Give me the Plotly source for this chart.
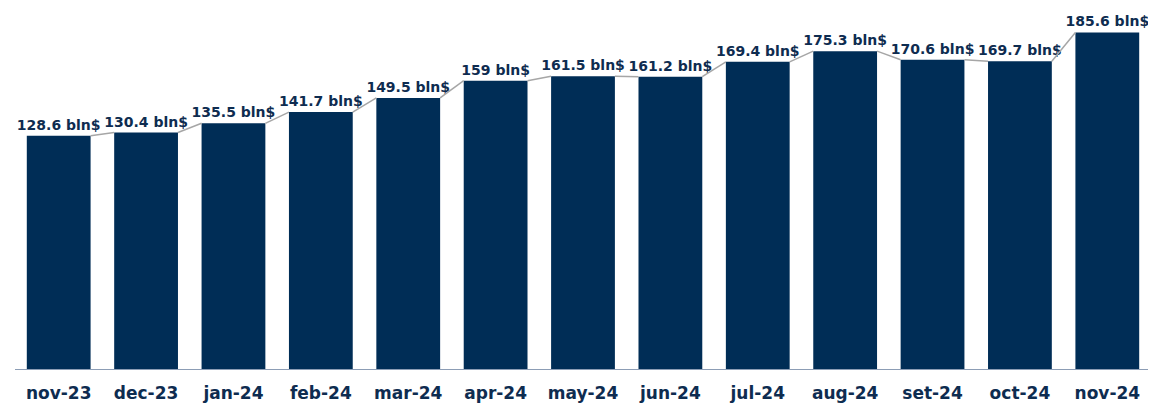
import plotly.graph_objects as go

months = ["nov-23", "dec-23", "jan-24", "feb-24", "mar-24", "apr-24", "may-24",
          "jun-24", "jul-24", "aug-24", "set-24", "oct-24", "nov-24"]
values = [128.6, 130.4, 135.5, 141.7, 149.5, 159, 161.5,
          161.2, 169.4, 175.3, 170.6, 169.7, 185.6]

_NAVY = "#002D56"
_TEXT = "#0E2C50"
_CONN = "#A6A6A6"
_BAR_W = 0.73
_FONT = "'DejaVu Sans', sans-serif"

xs = list(range(len(months)))
labels = [f"<b>{v:g} bln$</b>" for v in values]

# sloped connectors from the right top corner of one bar to the left top of the next
cx, cy = [], []
for i in range(len(values) - 1):
    cx += [xs[i] + _BAR_W / 2, xs[i + 1] - _BAR_W / 2, None]
    cy += [values[i], values[i + 1], None]

fig = go.Figure()
fig.add_trace(go.Scatter(
    x=cx, y=cy, mode="lines",
    line=dict(color=_CONN, width=1.5),
    hoverinfo="skip", showlegend=False,
))
fig.add_trace(go.Bar(
    x=xs, y=values, width=_BAR_W,
    marker=dict(color=_NAVY, line_width=0),
    text=labels, textposition="outside", cliponaxis=False,
    constraintext="none",
    textfont=dict(family=_FONT, size=14, color=_TEXT),
    showlegend=False,
))

# the page body adds an 8px offset, so the figure is sized to the visible area
fig.update_layout(
    width=1148, height=397,
    margin=dict(l=7, r=5, t=2, b=36, autoexpand=False),
    paper_bgcolor="white", plot_bgcolor="white",
    font=dict(family=_FONT, color=_TEXT),
    xaxis=dict(
        tickmode="array", tickvals=xs, ticktext=[f"<b>{m}</b>" for m in months],
        range=[-0.5, len(months) - 0.5],
        showgrid=False, zeroline=False,
        showline=True, linecolor="#8C9DB5", linewidth=1,
        ticks="", ticklabelstandoff=9,
        tickfont=dict(size=17, color=_TEXT),
    ),
    yaxis=dict(range=[0, 198], visible=False),
)

fig.write_html("out.html")
